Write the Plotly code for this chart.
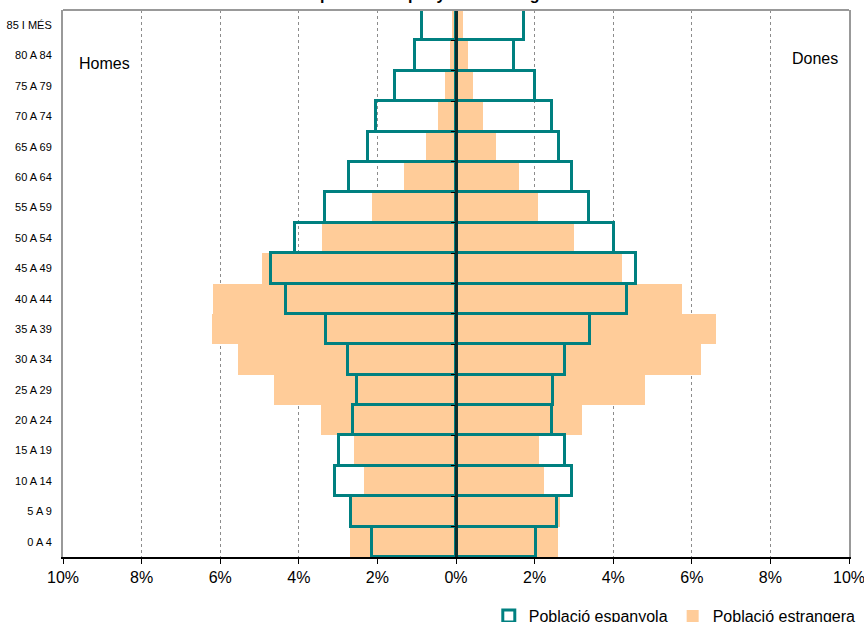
import plotly.graph_objects as go

# Age groups from youngest (bottom) to oldest (top)
ages = ["0 A 4", "5 A 9", "10 A 14", "15 A 19", "20 A 24", "25 A 29", "30 A 34",
        "35 A 39", "40 A 44", "45 A 49", "50 A 54", "55 A 59", "60 A 64",
        "65 A 69", "70 A 74", "75 A 79", "80 A 84", "85 I MÉS"]

# Percentages (positive values); men are drawn to the left
homes_espanyola = [2.13, 2.68, 3.08, 2.97, 2.62, 2.51, 2.74, 3.31, 4.32, 4.72,
                   4.10, 3.33, 2.72, 2.23, 2.03, 1.56, 1.04, 0.87]
dones_espanyola = [2.04, 2.56, 2.96, 2.78, 2.44, 2.46, 2.78, 3.41, 4.36, 4.58,
                   4.03, 3.38, 2.96, 2.61, 2.45, 2.02, 1.47, 1.74]
homes_estrangera = [2.71, 2.65, 2.35, 2.59, 3.43, 4.63, 5.55, 6.21, 6.18, 4.94,
                    3.41, 2.14, 1.33, 0.76, 0.46, 0.27, 0.15, 0.10]
dones_estrangera = [2.59, 2.65, 2.23, 2.12, 3.21, 4.82, 6.23, 6.62, 5.74, 4.23,
                    2.99, 2.08, 1.60, 1.01, 0.68, 0.43, 0.30, 0.19]

tick_vals = [-10, -8, -6, -4, -2, 0, 2, 4, 6, 8, 10]
tick_text = ["10%", "8%", "6%", "4%", "2%", "0%", "2%", "4%", "6%", "8%", "10%"]

TEAL = "#008080"
PEACH = "#FFCC99"
FONT = "Liberation Sans, Arial, sans-serif"

fig = go.Figure()

fig.add_trace(go.Bar(y=ages, x=[-v for v in homes_estrangera], orientation="h",
                     name="Població estrangera", marker=dict(color=PEACH, line=dict(width=0)),
                     legendgroup="est", showlegend=True, legendrank=2))
fig.add_trace(go.Bar(y=ages, x=dones_estrangera, orientation="h",
                     name="Població estrangera", marker=dict(color=PEACH, line=dict(width=0)),
                     legendgroup="est", showlegend=False))
fig.add_trace(go.Bar(y=ages, x=[-v for v in homes_espanyola], orientation="h",
                     name="Població espanyola",
                     marker=dict(color="rgba(0,0,0,0)", line=dict(color=TEAL, width=3)),
                     legendgroup="esp", showlegend=True, legendrank=1))
fig.add_trace(go.Bar(y=ages, x=dones_espanyola, orientation="h",
                     name="Població espanyola",
                     marker=dict(color="rgba(0,0,0,0)", line=dict(color=TEAL, width=3)),
                     legendgroup="esp", showlegend=False))

# invisible trace to drive the central axis with boundary ticks
fig.add_trace(go.Scatter(x=[0] * len(ages), y=list(range(len(ages))), yaxis="y2",
                         mode="markers", marker=dict(opacity=0), showlegend=False,
                         hoverinfo="skip"))

fig.update_layout(
    width=864, height=622,
    margin=dict(l=63, r=15, t=10, b=65, autoexpand=False),
    paper_bgcolor="white", plot_bgcolor="white",
    barmode="overlay", bargap=0,
    font=dict(family=FONT, color="#000"),
    xaxis=dict(range=[-10, 10], tickvals=tick_vals, ticktext=tick_text,
               showgrid=True, gridcolor="#8c8c8c", griddash="dot", gridwidth=1,
               zeroline=False, showline=True, linecolor="#000", linewidth=1.5,
               ticks="outside", ticklen=5, tickcolor="#000", automargin=False,
               ticklabeloverflow="allow",
               tickfont=dict(family=FONT, size=16), fixedrange=True),
    yaxis=dict(type="category", categoryarray=ages, showgrid=False, automargin=False,
               showline=True, linecolor="#999999", linewidth=2, mirror=True,
               ticks="", tickfont=dict(family=FONT, size=11), ticklabelstandoff=7),
    yaxis2=dict(overlaying="y", anchor="free", position=0.5, range=[-0.5, len(ages) - 0.5],
                tickvals=[i - 0.5 for i in range(len(ages) + 1)], ticks="outside",
                ticklen=4, tickcolor="#000", showticklabels=False, showgrid=False,
                automargin=False,
                zeroline=False, showline=True, linecolor="#0a3030", linewidth=2.5),
    legend=dict(orientation="h", x=1.015, xanchor="right", yref="container",
                y=(622 - 616) / 622, yanchor="middle",
                font=dict(family=FONT, size=16), traceorder="normal",
                itemwidth=30, bgcolor="rgba(0,0,0,0)"),
    shapes=[dict(type="line", xref="paper", yref="paper", x0=0, x1=1, y0=1, y1=1,
                 line=dict(color="#999999", width=2))],
    annotations=[
        dict(text="<b>Piràmide de la població espanyola i estrangera</b>",
             xref="paper", yref="paper", x=0.41, y=1, xanchor="center",
             yanchor="bottom", yshift=6, showarrow=False, borderpad=0,
             font=dict(size=16, color="#000")),
        dict(text="Homes", xref="paper", yref="paper", x=0.006, y=0.903,
             xanchor="left", yanchor="middle", showarrow=False,
             font=dict(size=16, color="#000"), bgcolor="white", borderpad=10),
        dict(text="Dones", xref="paper", yref="paper", x=1.0, y=0.912,
             xanchor="right", yanchor="middle", showarrow=False,
             font=dict(size=16, color="#000"), bgcolor="white", borderpad=10),
    ],
)

fig.write_html("out.html", config={"displayModeBar": False},
               post_script="document.body.style.margin='0';document.body.style.padding='0';")
